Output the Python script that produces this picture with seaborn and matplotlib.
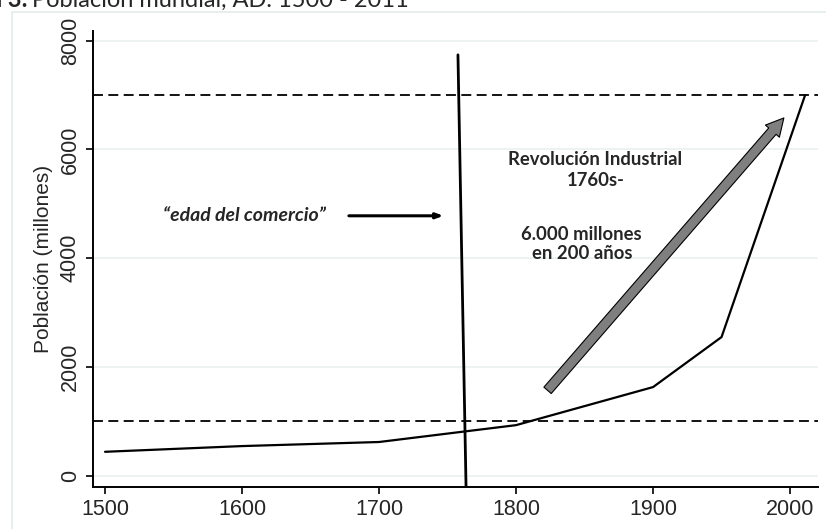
import matplotlib
matplotlib.use("Agg")
import matplotlib.pyplot as plt
import matplotlib.patches as mpatches
import seaborn as sns
import pandas as pd

# data
years = [1500, 1600, 1700, 1800, 1900, 1950, 2011]
population = [440, 545, 620, 930, 1630, 2550, 7000]
ref_levels = [1000, 7000]
divider_years = [1757.6, 1763.5]
divider_values = [7740, -200]
y_ticks = [0, 2000, 4000, 6000, 8000]
x_ticks = [1500, 1600, 1700, 1800, 1900, 2000]

df = pd.DataFrame({"year": years, "population": population})

sns.set_style("ticks")
plt.rcParams["font.family"] = ["Liberation Sans", "DejaVu Sans"]

fig = plt.figure(figsize=(8.26, 5.29), dpi=100)
ax = fig.add_axes([92.7 / 826, 1 - 486.7 / 529, (818 - 92.7) / 826, (486.7 - 30.7) / 529])

# faint outer frame
fig.patches.append(mpatches.Rectangle((12 / 826, -0.1), 1.2, 1 - 12 / 529 + 0.1,
                                      transform=fig.transFigure, fill=False,
                                      ec="#e3ebeb", lw=1.2))

# title (cut at the top of the picture, as in the source)
fig.text(28 / 826, 1 - 7 / 529, "Figura 3:", ha="right", va="baseline",
         fontsize=17, fontweight="bold", family="Lato")
fig.text(32 / 826, 1 - 7 / 529, "Población mundial, AD. 1500 - 2011", ha="left",
         va="baseline", fontsize=17, family="Lato")

for yt in y_ticks:
    ax.axhline(yt, color="#eaf1f1", lw=1.2, zorder=0)

for lvl in ref_levels:
    ax.axhline(lvl, color="black", lw=1.3, dashes=(5.5, 3), zorder=1)

sns.lineplot(data=df, x="year", y="population", color="black", lw=1.6, ax=ax, zorder=3)

ax.plot(divider_years, divider_values, color="black", lw=2.0, zorder=3)

# grey arrow
ax.annotate("", xy=(1995.5, 6580), xytext=(1823, 1570),
            arrowprops=dict(arrowstyle="simple,head_length=0.9,head_width=0.95,tail_width=0.5",
                            fc="#7f7f7f", ec="black", lw=0.8, mutation_scale=14,
                            shrinkA=0, shrinkB=0), zorder=4)

# black arrow
ax.annotate("", xy=(1747, 4780), xytext=(1678, 4780),
            arrowprops=dict(arrowstyle="-|>,head_length=0.4,head_width=0.15", color="black",
                            lw=2.2, shrinkA=0, shrinkB=0), zorder=4)

ax.text(1602, 4790, "\u201cedad del comercio\u201d", ha="center", va="center",
        fontsize=14, fontweight="bold", fontstyle="italic", family="Lato")
ax.text(1858, 5620, "Revolución Industrial\n1760s-", ha="center", va="center",
        fontsize=13.3, fontweight="bold", family="Lato", linespacing=1.3)
ax.text(1848, 4260, "6.000 millones\nen 200 años", ha="center", va="center",
        fontsize=13.3, fontweight="bold", family="Lato", linespacing=1.2)

ax.set_xlim(1491, 2020.4)
ax.set_ylim(-202, 8184)
ax.set_xticks(x_ticks)
ax.set_yticks(y_ticks)
ax.set_xlabel("")
ax.set_ylabel("Población (millones)", fontsize=15, labelpad=5)
ax.tick_params(axis="both", labelsize=15.5, length=5, width=1.2, color="black", direction="out")
for lab in ax.get_yticklabels():
    lab.set_rotation(90)
    lab.set_va("center")
sns.despine(ax=ax)
for sp in ["left", "bottom"]:
    ax.spines[sp].set_linewidth(1.4)
    ax.spines[sp].set_color("black")

fig.savefig("out.png", dpi=100)
